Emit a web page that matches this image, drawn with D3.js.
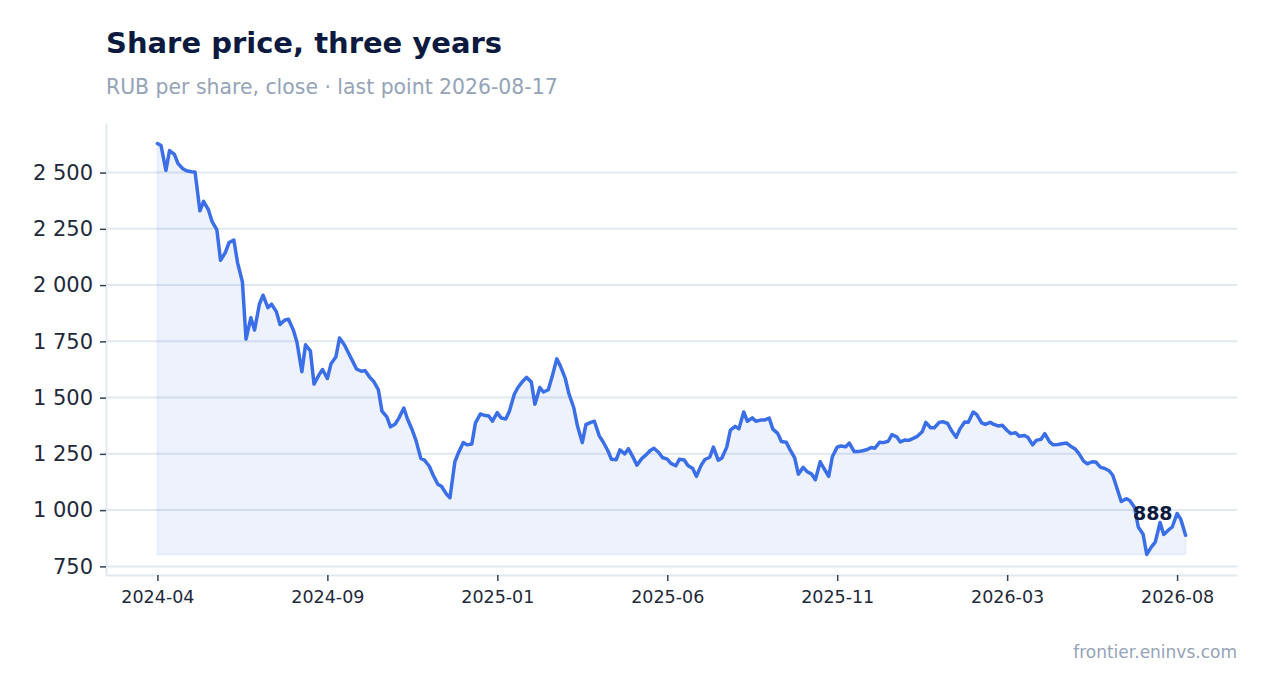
<!DOCTYPE html>
<html>
<head>
<meta charset="utf-8">
<script src="https://cdn.jsdelivr.net/npm/d3@7"></script>
<style>
    body { margin: 0; background: #fff; font-family: "DejaVu Sans", sans-serif; }
</style>
</head>
<body>
<script>
"use strict";

// Two closes a week (Mon / Thu), first one on 2024-04-22, last 2026-08-17
let startDate = new Date(2024, 3, 22);
let closes = [
    2629, 2620, 2510, 2598, 2581, 2540, 2517, 2508, 2504, 2503,
    2330, 2372, 2335, 2283, 2245, 2110, 2145, 2189, 2200, 2100,
    2015, 1760, 1855, 1800, 1915, 1955, 1900, 1915, 1882, 1825,
    1845, 1848, 1800, 1745, 1615, 1735, 1708, 1560, 1600, 1625,
    1585, 1650, 1680, 1765, 1735, 1703, 1660, 1627, 1617, 1620,
    1590, 1573, 1535, 1440, 1414, 1370, 1383, 1410, 1454, 1405,
    1355, 1310, 1230, 1222, 1195, 1157, 1115, 1106, 1072, 1055,
    1214, 1255, 1300, 1290, 1294, 1388, 1427, 1422, 1418, 1395,
    1433, 1410, 1405, 1440, 1515, 1545, 1573, 1590, 1570, 1470,
    1545, 1525, 1535, 1590, 1672, 1640, 1585, 1517, 1455, 1375,
    1300, 1380, 1390, 1395, 1330, 1305, 1265, 1226, 1224, 1268,
    1250, 1273, 1233, 1200, 1229, 1243, 1265, 1275, 1256, 1234,
    1227, 1208, 1197, 1226, 1223, 1198, 1185, 1150, 1200, 1225,
    1235, 1280, 1222, 1232, 1280, 1355, 1372, 1361, 1436, 1395,
    1410, 1395, 1400, 1400, 1409, 1360, 1341, 1305, 1302, 1270,
    1232, 1160, 1190, 1172, 1160, 1135, 1215, 1186, 1150, 1237,
    1280, 1285, 1282, 1298, 1260, 1260, 1264, 1268, 1278, 1275,
    1302, 1300, 1306, 1335, 1326, 1303, 1312, 1310, 1320, 1328,
    1348, 1390, 1366, 1366, 1390, 1393, 1385, 1355, 1324, 1360,
    1392, 1391, 1436, 1424, 1388, 1381, 1390, 1381, 1374, 1377,
    1354, 1340, 1344, 1328, 1332, 1324, 1290, 1310, 1315, 1340,
    1303, 1290, 1292, 1295, 1298, 1285, 1272, 1252, 1218, 1206,
    1215, 1214, 1190, 1186, 1175, 1155, 1088, 1038, 1051, 1043,
    1012, 925, 893, 803, 838, 858, 945, 892, 912, 925,
    985, 960, 888
];
let yTicks = [750, 1000, 1250, 1500, 1750, 2000, 2250, 2500];
let xTickEvery = 40; // every 20 weeks

let title = "Share price, three years";
let subtitle = "RUB per share, close · last point 2026-08-17";
let source = "frontier.eninvs.com";

//Width and height
let w = 1268;
let h = 693;
let margin = {top: 123, right: 31, bottom: 118, left: 106};

let data = closes.map((v, i) => {
    return {date: d3.timeDay.offset(startDate, Math.floor(i / 2) * 7 + (i % 2) * 3), close: v};
});

let svg = d3.select("body")
    .append("svg")
    .attr("width", w)
    .attr("height", h);

// 5% padding on both axes
let t0 = data[0].date, t1 = data[data.length - 1].date;
let tPad = (t1 - t0) * 0.05;
let x = d3.scaleTime()
    .domain([new Date(+t0 - tPad), new Date(+t1 + tPad)])
    .range([margin.left, w - margin.right]);

let vMin = d3.min(closes), vMax = d3.max(closes);
let vPad = (vMax - vMin) * 0.05;
let y = d3.scaleLinear()
    .domain([vMin - vPad, vMax + vPad])
    .range([h - margin.bottom, margin.top]);

let fmt = d3.formatLocale({decimal: ".", thousands: " ", grouping: [3], currency: ["", ""]}).format(",d");

// grid
svg.append("g")
    .selectAll("line")
    .data(yTicks)
    .enter().append("line")
    .attr("x1", margin.left)
    .attr("x2", w - margin.right)
    .attr("y1", d => y(d))
    .attr("y2", d => y(d))
    .attr("stroke", "#e2e8f0")
    .attr("stroke-width", 2);

let area = d3.area()
    .x(d => x(d.date))
    .y0(y(vMin))
    .y1(d => y(d.close));

svg.append("path")
    .datum(data)
    .attr("d", area)
    .attr("fill", "rgba(59,111,232,0.09)")
    .attr("stroke", "rgba(59,111,232,0.07)")
    .attr("stroke-width", 2);

let line = d3.line()
    .x(d => x(d.date))
    .y(d => y(d.close));

svg.append("path")
    .datum(data)
    .attr("d", line)
    .attr("fill", "none")
    .attr("stroke", "#3b6fe8")
    .attr("stroke-width", 3.5)
    .attr("stroke-linejoin", "round")
    .attr("stroke-linecap", "round");

// axes
let yAxis = svg.append("g")
    .attr("transform", `translate(${margin.left},0)`)
    .call(d3.axisLeft(y).tickValues(yTicks).tickFormat(fmt).tickSize(6).tickPadding(7).tickSizeOuter(0));

let xTickDates = data.filter((d, i) => i % xTickEvery === 0).map(d => d.date);
let xAxis = svg.append("g")
    .attr("transform", `translate(0,${h - margin.bottom})`)
    .call(d3.axisBottom(x).tickValues(xTickDates).tickFormat(d3.timeFormat("%Y-%m")).tickSize(6).tickPadding(10).tickSizeOuter(0));

for (let ax of [yAxis, xAxis]) {
    ax.select(".domain").attr("stroke", "#e2e8f0").attr("stroke-width", 2);
    ax.selectAll(".tick line").attr("stroke", "#334155").attr("stroke-width", 1.5);
    ax.selectAll(".tick text")
        .attr("fill", "#1e293b")
        .attr("font-family", "DejaVu Sans");
}
yAxis.selectAll(".tick text").attr("font-size", 21);
xAxis.selectAll(".tick text").attr("font-size", 17.5);

// last value
let last = data[data.length - 1];
svg.append("text")
    .attr("x", x(last.date) - 13)
    .attr("y", y(last.close) - 15)
    .attr("text-anchor", "end")
    .attr("font-size", 19)
    .attr("font-weight", "bold")
    .attr("fill", "#0b1a3e")
    .text(fmt(last.close));

// titles
svg.append("text")
    .attr("x", margin.left)
    .attr("y", 53)
    .attr("font-size", 29)
    .attr("font-weight", "bold")
    .attr("fill", "#0b1a3e")
    .text(title);

svg.append("text")
    .attr("x", margin.left)
    .attr("y", 94)
    .attr("font-size", 20.4)
    .attr("fill", "#94a3b8")
    .text(subtitle);

svg.append("text")
    .attr("x", w - margin.right)
    .attr("y", 658)
    .attr("text-anchor", "end")
    .attr("font-size", 17)
    .attr("fill", "#94a3b8")
    .text(source);
</script>
</body>
</html>
